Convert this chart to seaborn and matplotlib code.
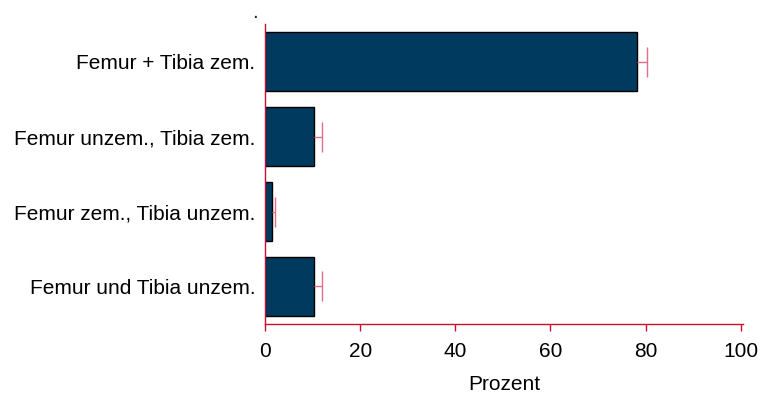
import matplotlib
matplotlib.use("Agg")
import matplotlib.pyplot as plt
import seaborn as sns
import pandas as pd

categories = [
    "Femur + Tibia zem.",
    "Femur unzem., Tibia zem.",
    "Femur zem., Tibia unzem.",
    "Femur und Tibia unzem.",
]
prozent = [78.2, 10.4, 1.5, 10.3]
fehler = [2.1, 1.5, 0.5, 1.6]
x_ticks = [0, 20, 40, 60, 80, 100]

sns.set_theme(style="white")
plt.rcParams["font.family"] = ["Liberation Sans", "DejaVu Sans"]

df = pd.DataFrame({"Kategorie": categories, "Prozent": prozent})
df["Oben"] = df["Prozent"] + pd.Series(fehler)

fig = plt.figure(figsize=(7.64, 3.94), dpi=100)
ax = fig.add_axes([0.3469, 0.1777, 0.6257, 0.7613])

spine_col = "#c8102e"
bar_col = "#003a5f"
err_col = "#e07088"

sns.barplot(data=df, y="Kategorie", x="Prozent", orient="h", color=bar_col,
            width=0.79, edgecolor="black", linewidth=1.0, saturation=1,
            errorbar=None, ax=ax)

# one-sided error bars: line from bar end to the upper limit, cap at the limit
ypos = list(range(len(categories)))
ax.hlines(ypos, df["Prozent"], df["Oben"], color=err_col, linewidth=1.0, zorder=3)
ax.scatter(df["Oben"], ypos, marker="|", s=22 ** 2, color=err_col,
           linewidths=1.0, zorder=3)

ax.set_xlim(0, 100.5)
ax.set_ylim(3.5, -0.5)
ax.set_xticks(x_ticks)
ax.set_xlabel("Prozent", fontsize=15, labelpad=10, color="black")
ax.set_ylabel("")
ax.tick_params(axis="x", direction="out", length=5, width=1, color=spine_col,
               labelsize=15, pad=8, labelcolor="black", bottom=True)
ax.tick_params(axis="y", length=0, labelsize=15, pad=7, labelcolor="black")

for side in ["top", "right"]:
    ax.spines[side].set_visible(False)
for side in ["left", "bottom"]:
    ax.spines[side].set_color(spine_col)
    ax.spines[side].set_linewidth(1.0)

fig.text(252 / 764, 1 - 13 / 394, ".", fontsize=15, ha="left", va="center")

fig.savefig("out.png", dpi=100)
